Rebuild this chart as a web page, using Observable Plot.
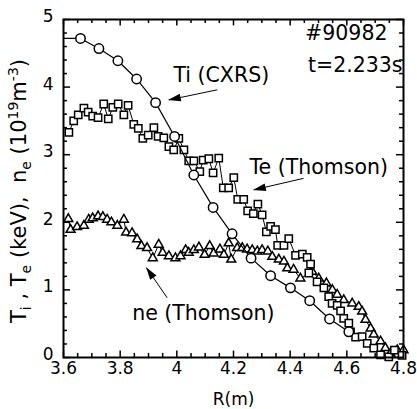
<!DOCTYPE html>
<html><head><meta charset="utf-8">
<script src="https://cdn.jsdelivr.net/npm/d3@7"></script>
<script src="https://cdn.jsdelivr.net/npm/@observablehq/plot@0.6"></script>
<style>
html,body{margin:0;padding:0;background:#fff;}
#chart svg{display:block;}
</style></head><body><div id="chart"></div>
<script>
// Ti (CXRS)
const tiR   = [3.660,3.725,3.792,3.858,3.925,3.992,4.060,4.128,4.195,4.262,4.331,4.401,4.469,4.539,4.607];
const tiVal = [4.72,4.57,4.39,4.12,3.77,3.27,2.70,2.22,1.83,1.47,1.21,1.03,0.84,0.57,0.38];
// Te (Thomson)
const teR   = [3.619,3.636,3.652,3.672,3.687,3.703,3.722,3.742,3.758,3.774,3.793,3.813,3.828,3.848,3.864,3.880,3.899,3.919,3.934,3.954,3.972,3.989,4.007,4.025,4.042,4.060,4.081,4.093,4.113,4.128,4.148,4.164,4.183,4.201,4.215,4.236,4.250,4.270,4.286,4.301,4.316,4.331,4.348,4.356,4.378,4.395,4.419,4.443,4.460,4.472,4.466,4.495,4.519,4.536,4.548,4.566,4.578,4.589,4.607,4.613,4.631,4.654,4.672,4.695,4.719,4.748,4.768,4.795];
const teVal = [3.33,3.50,3.59,3.69,3.63,3.57,3.55,3.75,3.53,3.70,3.75,3.59,3.73,3.45,3.39,3.24,3.29,3.40,3.27,3.25,3.12,3.07,3.24,3.07,2.91,2.91,2.75,2.92,2.94,2.73,2.95,2.51,2.51,2.66,2.34,2.34,2.17,2.13,2.27,2.11,1.86,1.94,1.89,1.66,1.66,1.76,1.51,1.53,1.48,1.38,1.25,1.12,1.03,0.90,0.80,0.77,0.69,0.58,0.51,0.38,0.30,0.31,0.21,0.14,0.04,0.01,0.11,0.03];
// ne (Thomson)
const neR   = [3.617,3.625,3.648,3.672,3.689,3.703,3.722,3.739,3.754,3.769,3.790,3.813,3.821,3.842,3.860,3.875,3.895,3.915,3.936,3.950,3.972,3.995,4.013,4.031,4.042,4.060,4.078,4.098,4.116,4.130,4.152,4.166,4.183,4.192,4.213,4.231,4.248,4.266,4.284,4.301,4.321,4.337,4.360,4.378,4.390,4.412,4.436,4.478,4.501,4.528,4.549,4.566,4.589,4.619,4.642,4.654,4.666,4.684,4.695,4.719,4.736,4.754,4.778,4.800];
const neVal = [2.05,1.89,1.93,1.95,2.04,2.06,2.09,2.08,2.04,2.00,1.95,2.04,1.85,1.84,1.75,1.65,1.62,1.47,1.67,1.55,1.50,1.47,1.50,1.59,1.55,1.59,1.63,1.52,1.65,1.54,1.60,1.52,1.69,1.45,1.62,1.62,1.60,1.59,1.57,1.59,1.57,1.49,1.45,1.42,1.32,1.30,1.17,1.27,1.17,1.10,1.00,0.93,0.85,0.80,0.75,0.68,0.56,0.43,0.34,0.24,0.14,0.06,0.11,0.11];

// axis ticks
const xTicks = [3.6,3.8,4,4.2,4.4,4.6,4.8];
const yTicks = [0,1,2,3,4,5];
const xMinor = d3.range(0,25).map(i => +(3.6 + i*0.05).toFixed(2));
const yMinor = d3.range(0,26).map(i => +(i*0.2).toFixed(1));

// annotations
const annoText   = ["#90982","t=2.233s","Ti (CXRS)","Te (Thomson)","ne (Thomson)"];
const annoX      = [4.7435,4.7965,3.988,4.2565,3.8425];
const annoY      = [4.79,4.32,4.17,2.81,0.65];
const annoAnchor = ["end","end","start","start","start"];
const arrX1 = [4.1425,4.447,3.966];
const arrY1 = [3.96,2.65,0.883];
const arrX2 = [3.9716,4.2717,3.893];
const arrY2 = [3.81,2.48,1.327];

const ti = tiR.map((x,i)=>({x, y: tiVal[i]}));
const tiLine = [{x: 3.6, y: tiVal[0]}, ...ti];
const te = teR.map((x,i)=>({x, y: teVal[i]}));
const ne = neR.map((x,i)=>({x, y: neVal[i]}));
const anno = annoText.map((t,i)=>({t, x: annoX[i], y: annoY[i], a: annoAnchor[i]}));
const arrows = arrX1.map((x1,i)=>({x1, y1: arrY1[i], x2: arrX2[i], y2: arrY2[i]}));

const FONT = "'DejaVu Sans', Verdana, sans-serif";
const isMajorX = v => xTicks.some(t => Math.abs(t - v) < 1e-6);
const isMajorY = v => yTicks.some(t => Math.abs(t - v) < 1e-6);

const chart = Plot.plot({
  width: 417, height: 409,
  marginLeft: 63, marginRight: 14, marginTop: 19, marginBottom: 52,
  style: {fontFamily: FONT, fontSize: "17px", color: "black", background: "white", overflow: "visible"},
  x: {domain: [3.6, 4.8]},
  y: {domain: [0, 5]},
  marks: [
    // inward tick marks
    Plot.ruleX(xMinor, {x: d => d, y1: 0, y2: d => isMajorX(d) ? 0.095 : 0.06, stroke: "black", strokeWidth: 1.5}),
    Plot.ruleX(xMinor, {x: d => d, y1: 5, y2: d => isMajorX(d) ? 4.905 : 4.94, stroke: "black", strokeWidth: 1.5}),
    Plot.ruleY(yMinor, {y: d => d, x1: 3.6, x2: d => isMajorY(d) ? 3.625 : 3.614, stroke: "black", strokeWidth: 1.5}),
    Plot.ruleY(yMinor, {y: d => d, x1: 4.8, x2: d => isMajorY(d) ? 4.775 : 4.786, stroke: "black", strokeWidth: 1.5}),
    Plot.axisX({ticks: xTicks, tickSize: 0, tickPadding: 4, fontSize: 17, label: "R(m)", labelAnchor: "center", labelOffset: 47, labelArrow: false, tickFormat: d => String(d)}),
    Plot.axisY({ticks: yTicks, tickSize: 0, tickPadding: 10, dy: -3, fontSize: 17, label: null, tickFormat: d => String(d)}),
    // data
    Plot.line(ne, {x: "x", y: "y", stroke: "black", strokeWidth: 1}),
    Plot.dot(ne, {x: "x", y: "y", symbol: "triangle", r: 3.3, fill: "white", stroke: "black", strokeWidth: 1.5}),
    Plot.line(te, {x: "x", y: "y", stroke: "black", strokeWidth: 1}),
    Plot.dot(te, {x: "x", y: "y", symbol: "square", r: 4.1, fill: "white", stroke: "black", strokeWidth: 1.5}),
    Plot.line(tiLine, {x: "x", y: "y", stroke: "black", strokeWidth: 1.2}),
    Plot.dot(ti, {x: "x", y: "y", symbol: "circle", r: 4.7, fill: "white", stroke: "black", strokeWidth: 1.5}),
    // annotations
    Plot.text(anno.filter(d => d.a === "start"), {x: "x", y: "y", text: "t", textAnchor: "start", lineAnchor: "middle", fontSize: 20.5, fill: "black"}),
    Plot.text(anno.filter(d => d.a === "end"), {x: "x", y: "y", text: "t", textAnchor: "end", lineAnchor: "middle", fontSize: 20.5, fill: "black"}),
    Plot.link(arrows, {x1: "x1", y1: "y1", x2: "x2", y2: "y2", stroke: "black", strokeWidth: 1, markerEnd: "arrow"}),
    Plot.frame({stroke: "black", strokeWidth: 2})
  ]
});

const svg = d3.select(chart);
// filled arrow heads
svg.selectAll("marker")
  .attr("viewBox", "-8 -4 10 8")
  .attr("markerWidth", 16).attr("markerHeight", 12.8)
  .attr("fill", "black").attr("stroke", "none")
  .selectAll("path").attr("d", "M-7.5,-2.4L0.5,0L-7.5,2.4Z");

// y-axis label with subscripts/superscripts
const yl = svg.append("text")
  .attr("transform", "translate(26,191) rotate(-90)")
  .attr("text-anchor", "middle")
  .attr("font-family", FONT)
  .attr("font-size", 21)
  .attr("fill", "black")
  .style("white-space", "pre");
const parts = [
  ["T", 0, 21], ["i", 5, 14], [" , T", -5, 21], ["e", 5, 14], [" (keV),  n", -5, 21], ["e", 5, 14],
  [" (10", -5, 21], ["19", -8, 14], ["m", 8, 21], ["-3", -8, 14], [")", 8, 21]
];
for (const [s, dy, fs] of parts) yl.append("tspan").attr("dy", dy).attr("font-size", fs).text(s);

document.getElementById("chart").appendChild(chart);
</script>
</body></html>
